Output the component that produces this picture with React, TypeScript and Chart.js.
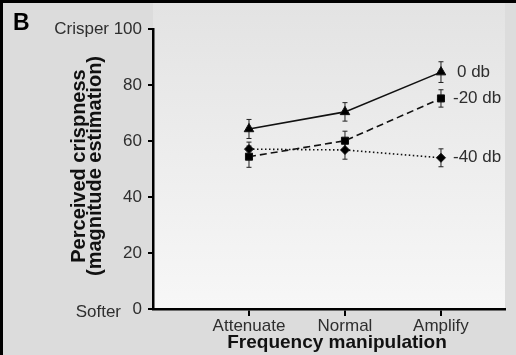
import React, { useEffect, useRef } from "react";
import { Chart, registerables } from "chart.js";

Chart.register(...registerables);

const categories = ["Attenuate", "Normal", "Amplify"];
const xPositions = [1, 2, 3];
const seriesNames = ["0 db", "-20 db", "-40 db"];
const values0db = [64.3, 70.4, 84.6];
const values20db = [54.4, 60.1, 75.2];
const values40db = [57.1, 56.8, 54.0];
const errors0db = [3.4, 3.3, 3.7];
const errors20db = [3.8, 3.4, 3.1];
const errors40db = [2.5, 3.3, 3.2];
const yTicks = [0, 20, 40, 60, 80, 100];

const FONT = '"Liberation Sans", Arial, Helvetica, sans-serif';
const TEXT = "#2e2e2e";

const allValues = [values0db, values20db, values40db];
const allErrors = [errors0db, errors20db, errors40db];

const decorPlugin = {
  id: "decor",
  beforeDraw(chart: any) {
    const { ctx, chartArea, width, height } = chart;
    ctx.save();
    ctx.fillStyle = "#dcdcdc";
    ctx.fillRect(0, 0, width, height);
    const g = ctx.createLinearGradient(0, 3, 0, chartArea.bottom);
    g.addColorStop(0, "#e3e3e3");
    g.addColorStop(1, "#f7f7f7");
    ctx.fillStyle = g;
    ctx.fillRect(chartArea.left, 3, chartArea.right - chartArea.left, chartArea.bottom - 3);
    ctx.fillStyle = "#000";
    ctx.fillRect(0, 0, width, 3);
    ctx.fillRect(0, 0, 3, height);
    ctx.restore();
  },
  beforeDatasetsDraw(chart: any) {
    const { ctx } = chart;
    const xs = chart.scales.x;
    const ys = chart.scales.y;
    ctx.save();
    ctx.strokeStyle = "#222";
    ctx.lineWidth = 1;
    allValues.forEach((vals, si) => {
      vals.forEach((v, i) => {
        const e = allErrors[si][i];
        const px = xs.getPixelForValue(xPositions[i]);
        const top = ys.getPixelForValue(v + e);
        const bot = ys.getPixelForValue(v - e);
        ctx.beginPath();
        ctx.moveTo(px, top);
        ctx.lineTo(px, bot);
        ctx.moveTo(px - 2.5, top);
        ctx.lineTo(px + 2.5, top);
        ctx.moveTo(px - 2.5, bot);
        ctx.lineTo(px + 2.5, bot);
        ctx.stroke();
      });
    });
    ctx.restore();
  },
  afterDraw(chart: any) {
    const { ctx } = chart;
    const xs = chart.scales.x;
    const ys = chart.scales.y;
    ctx.save();
    // panel letter
    ctx.fillStyle = "#000";
    ctx.font = `bold 23px ${FONT}`;
    ctx.textAlign = "left";
    ctx.textBaseline = "alphabetic";
    ctx.fillText("B", 13, 30);
    // Crisper / Softer
    ctx.fillStyle = TEXT;
    ctx.font = `17px ${FONT}`;
    ctx.textAlign = "right";
    ctx.textBaseline = "middle";
    ctx.fillText("Crisper", 109, ys.getPixelForValue(100));
    ctx.fillText("Softer", 121, ys.getPixelForValue(0) + 3);
    // series labels
    const last = xPositions.length - 1;
    const offsets = [16, 12, 12];
    ctx.textAlign = "left";
    allValues.forEach((vals, si) => {
      const px = xs.getPixelForValue(xPositions[last]);
      const py = ys.getPixelForValue(vals[last]);
      ctx.fillText(seriesNames[si], px + offsets[si], py);
    });
    // x title
    ctx.fillStyle = "#111";
    ctx.font = `bold 19px ${FONT}`;
    ctx.textAlign = "center";
    ctx.textBaseline = "alphabetic";
    ctx.fillText("Frequency manipulation", 337, 348);
    // y title
    const cy = (chart.chartArea.top + chart.chartArea.bottom) / 2 - 3;
    ctx.translate(0, cy);
    ctx.rotate(-Math.PI / 2);
    ctx.font = `bold 20px ${FONT}`;
    ctx.fillText("Perceived crispness", 0, 85);
    ctx.fillText("(magnitude estimation)", 0, 101);
    ctx.restore();
  },
};

export default function App() {
  const ref = useRef<HTMLCanvasElement>(null);
  useEffect(() => {
    document.body.style.margin = "0";
    const mk = (vals: number[]) => vals.map((v, i) => ({ x: xPositions[i], y: v }));
    const chart = new Chart(ref.current as HTMLCanvasElement, {
      type: "line",
      data: {
        datasets: [
          {
            label: seriesNames[0],
            data: mk(values0db),
            borderColor: "#111",
            backgroundColor: "#000",
            borderWidth: 1.6,
            pointStyle: "triangle",
            pointRadius: 5.5,
            pointBorderWidth: 1,
          },
          {
            label: seriesNames[1],
            data: mk(values20db),
            borderColor: "#111",
            backgroundColor: "#000",
            borderWidth: 1.6,
            borderDash: [7, 4],
            pointStyle: "rect",
            pointRadius: 5,
            pointBorderWidth: 1,
          },
          {
            label: seriesNames[2],
            data: mk(values40db),
            borderColor: "#111",
            backgroundColor: "#000",
            borderWidth: 1.6,
            borderDash: [1.5, 2.5],
            pointStyle: "rectRot",
            pointRadius: 4.5,
            pointBorderWidth: 1,
          },
        ],
      },
      options: {
        responsive: false,
        animation: false,
        devicePixelRatio: 1,
        layout: { padding: { left: 0, right: 11, top: 29, bottom: 0 } },
        plugins: {
          legend: { display: false },
          tooltip: { enabled: false },
        },
        scales: {
          x: {
            type: "linear",
            min: 0,
            max: 3.667,
            afterBuildTicks: (scale: any) => {
              scale.ticks = xPositions.map((v) => ({ value: v }));
            },
            afterFit: (scale: any) => {
              scale.height = 46;
            },
            ticks: {
              callback: (v: any) => categories[Number(v) - 1] ?? "",
              color: TEXT,
              font: { family: FONT, size: 17 },
              padding: 0,
              maxRotation: 0,
              autoSkip: false,
            },
            grid: {
              display: true,
              drawOnChartArea: false,
              color: "#000",
              lineWidth: 2,
              tickLength: 7,
            },
            border: { display: true, color: "#000", width: 2.5 },
          },
          y: {
            type: "linear",
            min: 0,
            max: 100,
            afterBuildTicks: (scale: any) => {
              scale.ticks = yTicks.map((v) => ({ value: v }));
            },
            afterFit: (scale: any) => {
              scale.width = 153;
            },
            ticks: {
              color: TEXT,
              font: { family: FONT, size: 17 },
              padding: 6,
            },
            grid: {
              display: true,
              drawOnChartArea: false,
              color: "#000",
              lineWidth: 2,
              tickLength: 5,
            },
            border: { display: true, color: "#000", width: 2.5 },
          },
        },
      },
      plugins: [decorPlugin],
    } as any);
    return () => chart.destroy();
  }, []);
  return (
    <div style={{ position: "absolute", left: 0, top: 0, width: 516, height: 355 }}>
      <canvas ref={ref} width={516} height={355} style={{ width: 516, height: 355 }} />
    </div>
  );
}
